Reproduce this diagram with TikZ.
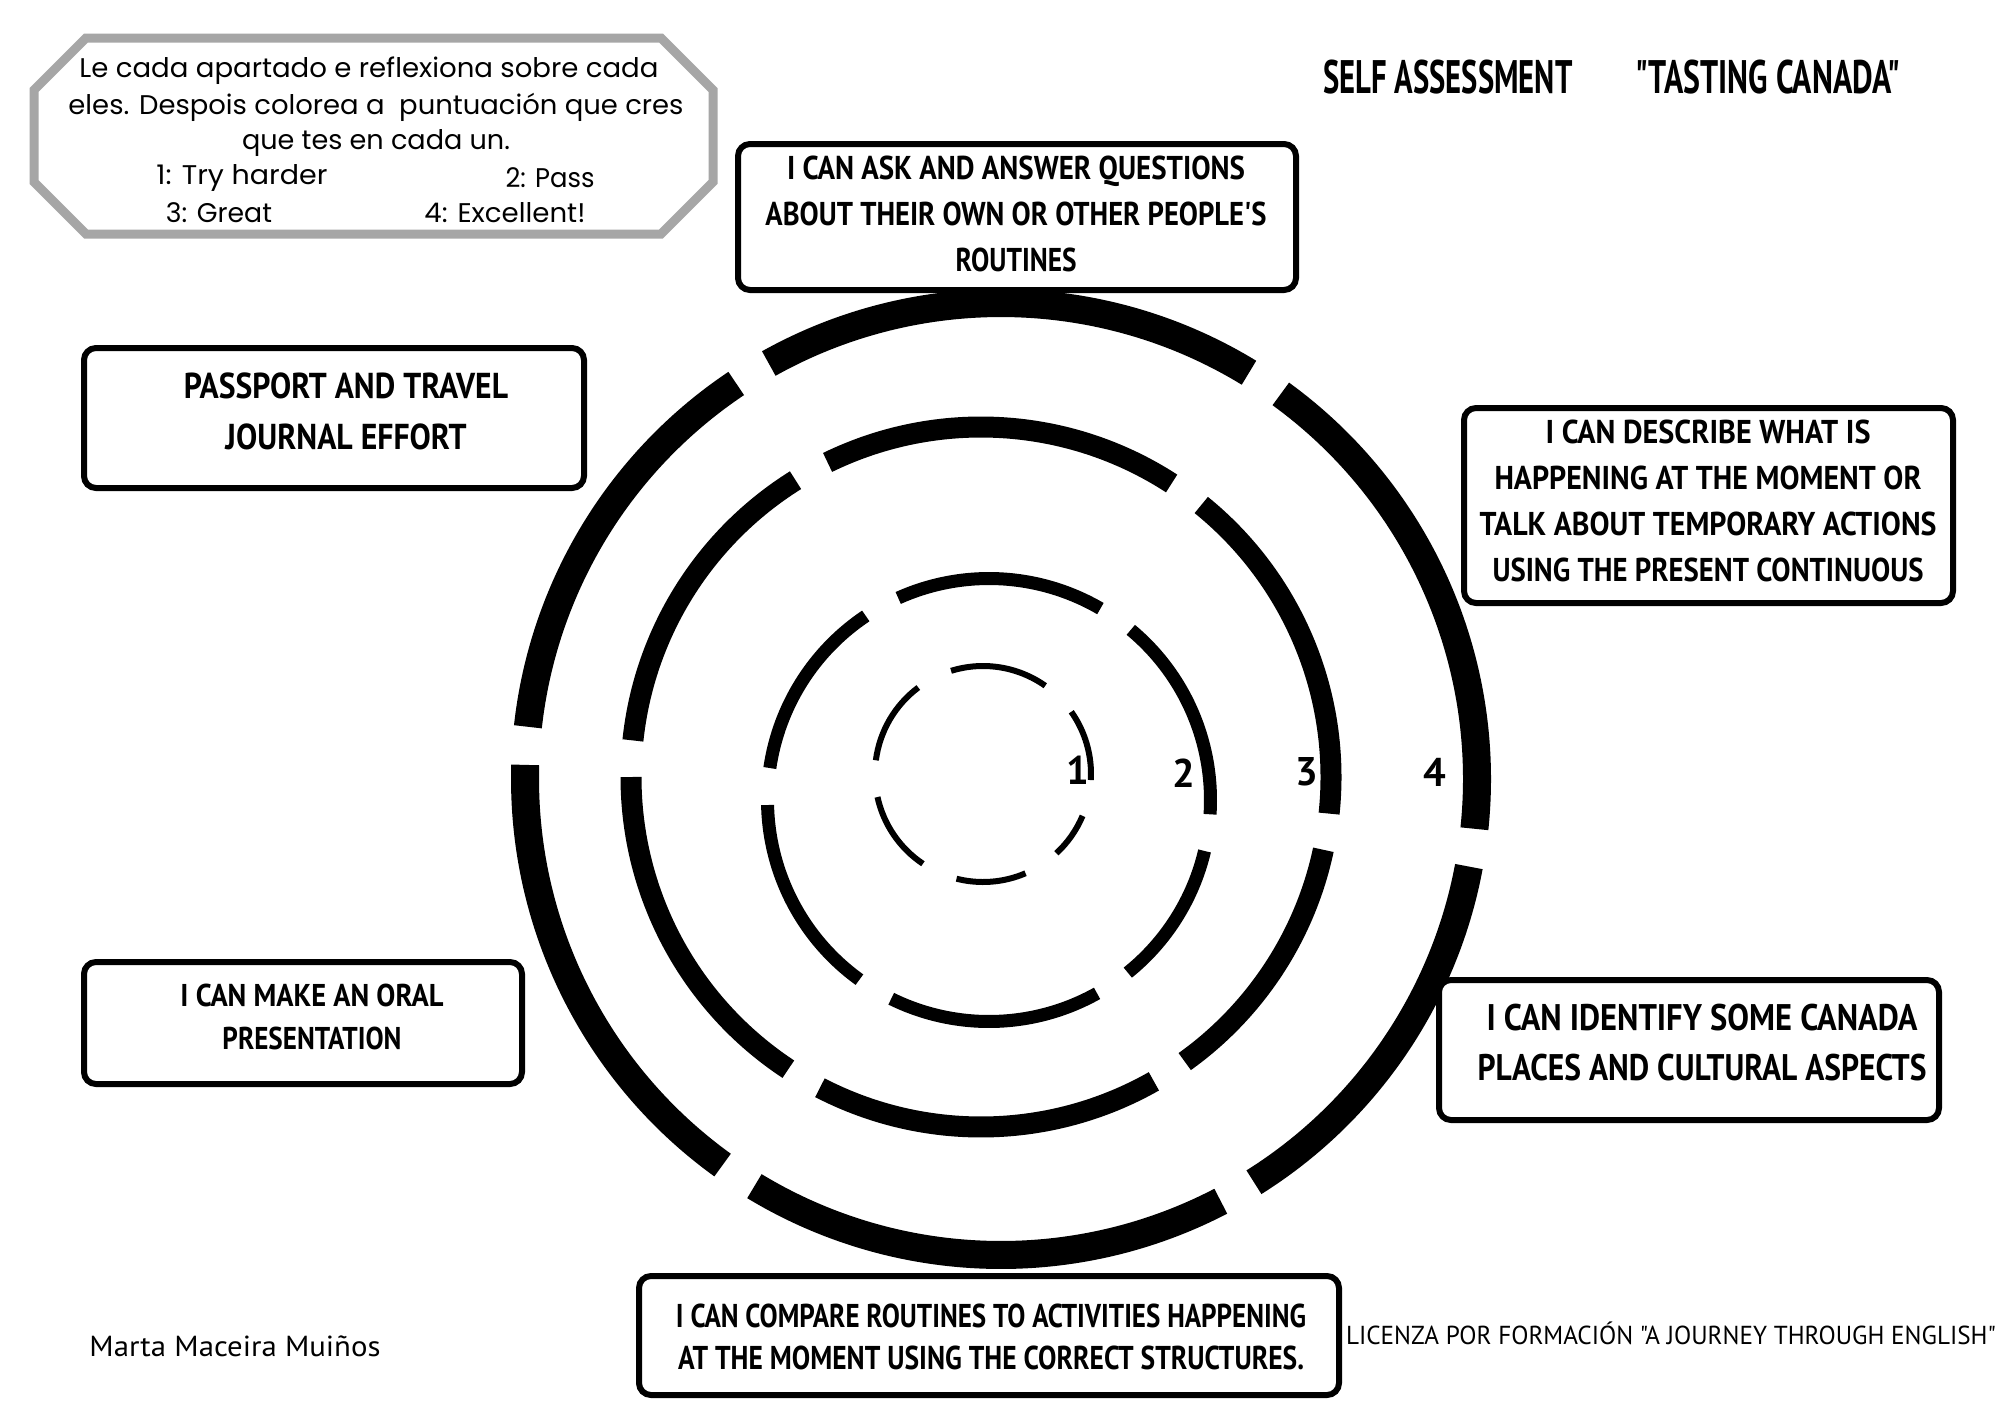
\documentclass[tikz,border=0pt]{standalone}
\usepackage{fontspec}
\setmainfont{Poppins}
\newfontfamily\hand{PT Sans}
\newcommand{\fitw}[2]{\resizebox{#1pt}{\height}{#2}}
\definecolor{octgray}{RGB}{166,166,166}
\begin{document}
\begin{tikzpicture}[x=1pt,y=1pt,
  ringfour/.style={line width=28pt},
  ringthree/.style={line width=21pt},
  ringtwo/.style={line width=13pt},
  ringone/.style={line width=6pt},
  box/.style={draw=black, line width=6pt, rounded corners=12pt, fill=white, inner sep=0pt},
  lbl/.style={align=center, inner sep=0pt},
  instr/.style={font=\fontsize{27}{36}\selectfont, inner sep=0pt},
  numlbl/.style={font=\hand\bfseries\fontsize{40}{40}\selectfont, inner sep=0pt}]
\path[use as bounding box, fill=white] (0,0) rectangle (2000,-1414);

% instruction octagon
\draw[octgray, line width=9pt] (86,-38) -- (661,-38) -- (713,-90) -- (713,-182) -- (661,-234)
  -- (86,-234) -- (34,-182) -- (34,-90) -- cycle;
\node[instr] (i1) at (369,-71) {\fitw{579}{Le cada apartado e reflexiona sobre cada}};
\node[instr] (i2) at (376,-107) {\fitw{615}{eles. Despois colorea a\ \ puntuación que cres}};
\node[instr] (i3) at (376,-143) {\fitw{268}{que tes en cada un.}};
\node[instr] (s1) at (242,-178) {\fitw{171}{1: Try harder}};
\node[instr] (s2) at (550,-178) {\fitw{89}{2: Pass}};
\node[instr] (s3) at (219,-213) {\fitw{106}{3: Great}};
\node[instr] (s4) at (505,-213) {\fitw{161}{4: Excellent!}};

% title
\node[lbl, font=\hand\bfseries\fontsize{47}{47}\selectfont] (t1) at (1448,-77) {\fitw{249}{SELF ASSESSMENT}};
\node[lbl, font=\hand\bfseries\fontsize{47}{47}\selectfont] (t2) at (1768,-77) {\fitw{265}{"TASTING CANADA"}};

% rings
\coordinate (c4) at (1001,-779);
\coordinate (c3) at (981,-777);
\coordinate (c2) at (989,-800);
\coordinate (c1) at (983,-774);
\foreach \a/\b in {-6.0/54.0, 58.6/119.2, 123.8/173.7, 178.3/234.2, 238.8/297.5, 302.1/349.4}
  \draw[ringfour] (c4) ++(\a:476) arc[start angle=\a, end angle=\b, radius=476];
\foreach \a/\b in {-6/51, 57/116, 122/174, 180/236.6, 242.6/299.6, 305.6/348}
  \draw[ringthree] (c3) ++(\a:350) arc[start angle=\a, end angle=\b, radius=350];
\foreach \a/\b in {-3.7/50.2, 59.8/114.2, 123.8/171.7, 181.3/234.2, 243.8/299.2, 308.8/346.7}
  \draw[ringtwo] (c2) ++(\a:221.5) arc[start angle=\a, end angle=\b, radius=221.5];
\foreach \a/\b in {-3.2/35.2, 54.8/107.2, 126.8/172.7, 192.3/236.2, 255.8/293.2, 312.8/337.2}
  \draw[ringone] (c1) ++(\a:108) arc[start angle=\a, end angle=\b, radius=108];

\node[numlbl] (n1) at (1078,-770) {1};
\node[numlbl] (n2) at (1184,-773) {2};
\node[numlbl] (n3) at (1307,-772) {3};
\node[numlbl] (n4) at (1435,-772) {4};

% boxes
\node[box, minimum width=558pt, minimum height=146pt] (b1) at (1017,-217) {};
\node[lbl, font=\hand\bfseries\fontsize{33}{46}\selectfont] (l1) at (1016,-214)
  {\fitw{458}{I CAN ASK AND ANSWER QUESTIONS}\\ \fitw{501}{ABOUT THEIR OWN OR OTHER PEOPLE'S}\\ \fitw{121}{ROUTINES}};

\node[box, minimum width=500pt, minimum height=140pt] (b2) at (334,-418) {};
\node[lbl, font=\hand\bfseries\fontsize{36}{51}\selectfont] (l2) at (346,-411.5)
  {\fitw{324}{PASSPORT AND TRAVEL}\\ \fitw{241}{JOURNAL EFFORT}};

\node[box, minimum width=489pt, minimum height=195pt] (b3) at (1708.5,-505.5) {};
\node[lbl, font=\hand\bfseries\fontsize{33}{46}\selectfont] (l3) at (1708,-501)
  {\fitw{325}{I CAN DESCRIBE WHAT IS}\\ \fitw{427}{HAPPENING AT THE MOMENT OR}\\ \fitw{457}{TALK ABOUT TEMPORARY ACTIONS}\\ \fitw{431}{USING THE PRESENT CONTINUOUS}};

\node[box, minimum width=438pt, minimum height=122pt] (b4) at (303,-1023) {};
\node[lbl, font=\hand\bfseries\fontsize{31.5}{43}\selectfont] (l4) at (312,-1016.5)
  {\fitw{263}{I CAN MAKE AN ORAL}\\ \fitw{179}{PRESENTATION}};

\node[box, minimum width=500pt, minimum height=140pt] (b5) at (1689,-1050) {};
\node[lbl, font=\hand\bfseries\fontsize{37}{50}\selectfont] (l5) at (1702,-1043)
  {\fitw{431}{I CAN IDENTIFY SOME CANADA}\\ \fitw{449}{PLACES AND CULTURAL ASPECTS}};

\node[box, minimum width=700pt, minimum height=119pt] (b6) at (989,-1335.5) {};
\node[lbl, font=\hand\bfseries\fontsize{33}{42}\selectfont] (l6) at (991,-1337)
  {\fitw{630}{I CAN COMPARE ROUTINES TO ACTIVITIES HAPPENING}\\ \fitw{626}{AT THE MOMENT USING THE CORRECT STRUCTURES.}};

% footer texts
\node[lbl, font=\hand\fontsize{26}{26}\selectfont] (lic) at (1671,-1333) {\fitw{650}{LICENZA POR FORMACIÓN "A JOURNEY THROUGH ENGLISH"}};
\node[lbl, font=\hand\fontsize{29}{29}\selectfont] (auth) at (235,-1346) {\fitw{291}{Marta Maceira Muiños}};
\end{tikzpicture}
\end{document}
